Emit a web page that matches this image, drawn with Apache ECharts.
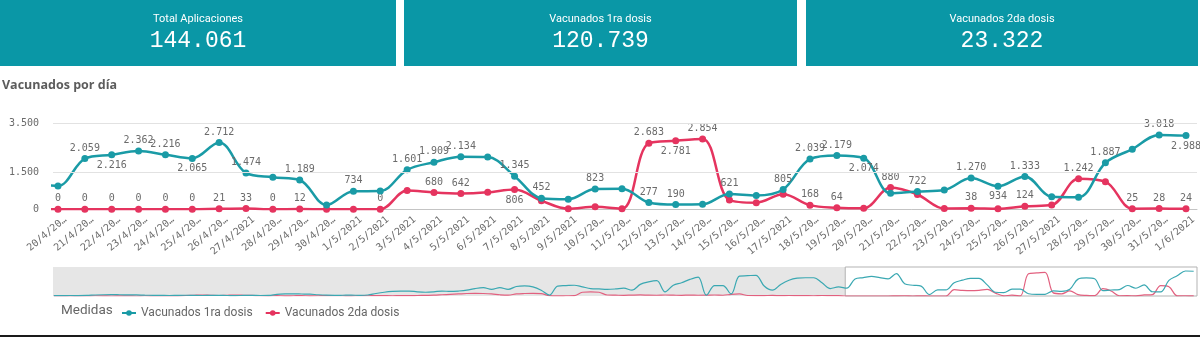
<!DOCTYPE html>
<html><head><meta charset="utf-8">
<script src="https://cdn.jsdelivr.net/npm/echarts@6/dist/echarts.min.js"></script>
<style>html,body{margin:0;padding:0;background:#fff}#c{width:1200px;height:338px}</style>
</head><body><div id="c"></div>
<script>
// ---- data ----
const kpiTitles = ['Total Aplicaciones', 'Vacunados 1ra dosis', 'Vacunados 2da dosis'];
const kpiValues = ['144.061', '120.739', '23.322'];
const chartTitle = 'Vacunados por día';
const legendTitle = 'Medidas';
const seriesNames = ['Vacunados 1ra dosis', 'Vacunados 2da dosis'];

const dates = ['20/4/2021','21/4/2021','22/4/2021','23/4/2021','24/4/2021','25/4/2021','26/4/2021','27/4/2021','28/4/2021','29/4/2021','30/4/2021',
  '1/5/2021','2/5/2021','3/5/2021','4/5/2021','5/5/2021','6/5/2021','7/5/2021','8/5/2021','9/5/2021','10/5/2021','11/5/2021','12/5/2021','13/5/2021','14/5/2021','15/5/2021','16/5/2021','17/5/2021','18/5/2021','19/5/2021','20/5/2021','21/5/2021','22/5/2021','23/5/2021','24/5/2021','25/5/2021','26/5/2021','27/5/2021','28/5/2021','29/5/2021','30/5/2021','31/5/2021','1/6/2021'];
const xTickLabels = ['20/4/20…','21/4/20…','22/4/20…','23/4/20…','24/4/20…','25/4/20…','26/4/20…','27/4/2021','28/4/20…','29/4/20…','30/4/20…',
  '1/5/2021','2/5/2021','3/5/2021','4/5/2021','5/5/2021','6/5/2021','7/5/2021','8/5/2021','9/5/2021','10/5/20…','11/5/20…','12/5/20…','13/5/20…','14/5/20…','15/5/20…','16/5/20…','17/5/2021','18/5/20…','19/5/20…','20/5/20…','21/5/20…','22/5/20…','23/5/20…','24/5/20…','25/5/20…','26/5/20…','27/5/2021','28/5/20…','29/5/20…','30/5/20…','31/5/20…','1/6/2021'];

// visible window 20/4 .. 1/6
const dosis1 = [950,2059,2216,2362,2216,2065,2712,1474,1300,1189,170,734,740,1601,1909,2134,2120,1345,452,410,823,830,277,190,200,621,560,805,2039,2179,2074,650,722,780,1270,934,1333,510,490,1887,2440,3018,2988];
const dosis2 = [0,0,0,0,0,0,21,33,0,12,0,0,0,760,680,642,690,806,350,20,105,20,2683,2781,2854,377,268,608,168,64,40,880,600,30,38,20,124,170,1242,1120,25,28,24];

// earlier days 14/1 .. 19/4 (only seen in the navigator)
const dosis1Prev = [50,40,60,50,70,120,150,160,150,140,130,100,80,70,60,80,90,70,60,80,70,60,50,70,80,60,70,200,250,260,240,220,150,100,80,90,100,80,120,
  300,450,550,600,600,500,450,500,600,550,600,700,900,1000,800,1000,800,1150,1220,1100,700,100,1200,1250,1300,1100,900,850,800,850,950,
  700,1400,1700,1850,500,1300,1600,2000,2270,100,1250,1250,250,2400,2450,2500,1200,700,1400,1900,2150,2200,2200,1600,900,1100];
const dosis2Prev = [10,0,20,0,10,30,20,0,10,20,0,30,20,10,0,20,60,90,110,80,60,90,110,90,70,
  30,20,40,20,30,40,20,30,50,40,30,20,40,30,50,40,30,50,40,60,80,100,150,200,250,300,320,300,250,150,100,250,300,320,280,50,20,30,40,450,500,450,
  120,100,80,110,130,100,90,120,100,80,110,90,100,120,90,200,250,60,40,50,70,40,60,50,40,30,60,50,40];

const yTicks = [0, 1500, 3500];
// data label placement: a = above, b = below, - = hidden
const labelMode1 = '-abaabaa-a-a-aaa-aa-a-aa-a-aaab-a-aba--a-ab';
const labelMode2 = 'aaaaaaaaaa--a-aa-b----aba---aa-a--a-a-a-aaa';

// ---- build ----
const C1 = '#1a9ba6', C2 = '#e5345f';
const MONO = 'DejaVu Sans Mono';
const fmt = v => String(v).replace(/\B(?=(\d{3})+(?!\d))/g, '.');
const LABEL_SHIFT = 0.28; // tick labels sit slightly right of their point, as in the original

const full1 = dosis1Prev.concat(dosis1);
const full2 = dosis2Prev.concat(dosis2);
const off = dosis1Prev.length; // index of first visible day

function mainData(full, modes) {
  const out = [];
  for (let i = off - 1; i < full.length; i++) {
    const k = i - off;
    const m = k >= 0 ? modes[k] : '-';
    out.push({
      value: [k, full[i]],
      label: { show: m !== '-', position: m === 'b' ? 'bottom' : 'top' }
    });
  }
  return out;
}
const miniData = full => full.map((v, i) => [i, v]);

const graphic = [];
const boxes = [[0, 396], [404, 797], [806, 1198]];
boxes.forEach((b, i) => {
  graphic.push({ type: 'rect', shape: { x: b[0], y: 0, width: b[1] - b[0], height: 66 }, style: { fill: '#0a97a6' }, silent: true });
  const cx = (b[0] + b[1]) / 2;
  graphic.push({ type: 'text', x: cx, y: 19, style: { text: kpiTitles[i], fill: '#fff', fontSize: 11, fontFamily: 'Roboto', align: 'center', verticalAlign: 'middle' }, silent: true });
  graphic.push({ type: 'text', x: cx, y: 41, style: { text: kpiValues[i], fill: '#fff', fontSize: 23, fontFamily: 'Liberation Mono', align: 'center', verticalAlign: 'middle' }, silent: true });
});
graphic.push({ type: 'text', x: 2, y: 85, style: { text: chartTitle, fill: '#5c5c5c', fontSize: 12.5, fontWeight: 'bold', fontFamily: 'Open Sans', verticalAlign: 'middle' }, silent: true });
graphic.push({ type: 'text', x: 61, y: 311, style: { text: legendTitle, fill: '#666', fontSize: 13.5, fontFamily: 'Roboto', verticalAlign: 'middle' }, silent: true });
graphic.push({ type: 'rect', shape: { x: 0, y: 335, width: 1200, height: 2 }, style: { fill: '#1a1a1a' }, silent: true });

const lbl = {
  show: true, fontFamily: MONO, fontSize: 10, color: '#6b6b6b', distance: 2,
  formatter: p => fmt(p.value[1])
};

const xMin = -0.186, xMax = 42.41;
const option = {
  animation: false,
  graphic: graphic,
  legend: {
    left: 116, top: 302, itemWidth: 14, itemHeight: 7, itemGap: 12,
    data: seriesNames,
    textStyle: { fontFamily: 'Roboto', fontSize: 12, color: '#666' },
    selectedMode: false
  },
  grid: [
    { left: 53, top: 123, width: 1144, height: 86.3 },
    { left: 53, top: 267, width: 1144, height: 29 }
  ],
  xAxis: [
    {
      gridIndex: 0, type: 'value', min: xMin, max: xMax,
      axisLine: { show: true, onZero: true, lineStyle: { color: '#c4c4c4', width: 1 } },
      axisTick: { show: false },
      splitLine: { show: false },
      axisLabel: {
        customValues: dates.map((d, i) => i + LABEL_SHIFT),
        formatter: v => xTickLabels[Math.round(v - LABEL_SHIFT)] || '',
        rotate: 40, fontFamily: MONO, fontSize: 10, color: '#6b6b6b', margin: 9
      }
    },
    {
      gridIndex: 1, type: 'value', min: -0.1, max: 138.4,
      axisLine: { show: false }, axisTick: { show: false }, axisLabel: { show: false }, splitLine: { show: false }
    }
  ],
  yAxis: [
    {
      gridIndex: 0, type: 'value', min: 0, max: 3500, interval: 500,
      axisLine: { show: false }, axisTick: { show: false }, splitLine: { show: false },
      axisLabel: { customValues: yTicks, formatter: v => fmt(v), fontFamily: MONO, fontSize: 10, color: '#6b6b6b', margin: 14 }
    },
    {
      gridIndex: 1, type: 'value', min: 0, max: 3500,
      axisLine: { show: false }, axisTick: { show: false }, axisLabel: { show: false }, splitLine: { show: false }
    }
  ],
  series: [
    {
      type: 'line', xAxisIndex: 0, yAxisIndex: 0, data: [], z: 1, silent: true,
      markLine: {
        silent: true, symbol: 'none', label: { show: false },
        lineStyle: { color: '#e2e2e2', type: 'solid', width: 1 },
        data: yTicks.filter(v => v > 0).map(v => ({ yAxis: v }))
      }
    },
    {
      name: seriesNames[0], type: 'line', xAxisIndex: 0, yAxisIndex: 0, z: 3,
      data: mainData(full1, labelMode1), smooth: 0.35, clip: true,
      symbol: 'circle', symbolSize: 7, color: C1,
      lineStyle: { width: 2.5, color: C1 }, itemStyle: { color: C1 },
      label: lbl, emphasis: { disabled: true }
    },
    {
      name: seriesNames[1], type: 'line', xAxisIndex: 0, yAxisIndex: 0, z: 2,
      data: mainData(full2, labelMode2), smooth: 0.35, clip: true,
      symbol: 'circle', symbolSize: 7, color: C2,
      lineStyle: { width: 2.5, color: C2 }, itemStyle: { color: C2 },
      label: lbl, emphasis: { disabled: true }
    },
    {
      type: 'line', xAxisIndex: 1, yAxisIndex: 1, data: [], z: 1, silent: true,
      markArea: {
        silent: true, label: { show: false },
        data: [
          [{ xAxis: -0.1, itemStyle: { color: '#e6e6e6' } }, { xAxis: off + xMin }],
          [{ xAxis: off + xMin, itemStyle: { color: 'rgba(255,255,255,0)', borderColor: '#b3b3b3', borderWidth: 1 } }, { xAxis: 138.4 }]
        ]
      }
    },
    {
      name: seriesNames[0], type: 'line', xAxisIndex: 1, yAxisIndex: 1, z: 3, silent: true,
      data: miniData(full1), smooth: 0.35, showSymbol: false, symbol: 'none',
      lineStyle: { width: 1.2, color: '#3aa8b2' }, color: C1
    },
    {
      name: seriesNames[1], type: 'line', xAxisIndex: 1, yAxisIndex: 1, z: 2, silent: true,
      data: miniData(full2), smooth: 0.35, showSymbol: false, symbol: 'none',
      lineStyle: { width: 1.2, color: '#e2607f' }, color: C2
    }
  ]
};
const chart = echarts.init(document.getElementById('c'), null, { renderer: 'canvas' });
chart.setOption(option);
</script>
</body></html>
